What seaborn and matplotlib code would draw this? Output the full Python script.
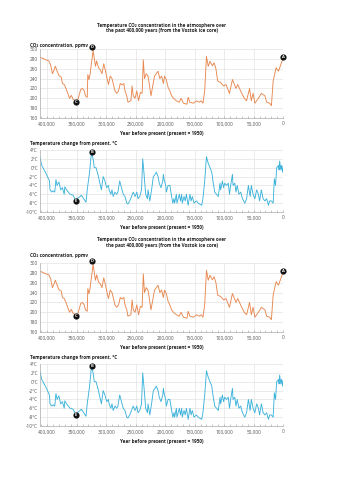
import matplotlib
matplotlib.use("Agg")
import matplotlib.pyplot as plt
import seaborn as sns
import pandas as pd
from matplotlib.ticker import FuncFormatter, MultipleLocator

sns.set_theme(style="whitegrid")
plt.rcParams['font.family'] = ['Open Sans', 'DejaVu Sans']

# ---- data ----
co2_years = [411000, 402000, 397000, 394000, 391000, 389000, 386000, 383000, 380000, 376000,
             374000, 371000, 368000, 365000, 362000, 359000, 356000, 352000, 349000, 346000,
             343000, 340000, 337000, 335000, 332000, 331000, 329000, 327000, 325000, 322000,
             320000, 318000, 316000, 313000, 310000, 307000, 304000, 301000, 298000, 296000,
             293000, 290000, 287000, 285000, 282000, 279000, 276000, 273000, 270000, 268000,
             265000, 263000, 260000, 258000, 256000, 254000, 251000, 248000, 245000, 242000,
             239000, 237000, 235000, 232000, 229000, 227000, 224000, 221000, 218000, 215000,
             212000, 209000, 206000, 203000, 201000, 198000, 195000, 192000, 189000, 186000,
             181000, 176000, 173000, 169000, 163000, 161000, 158000, 152000, 147000, 142000,
             139000, 136000, 133000, 130000, 127000, 124000, 120000, 117000, 114000, 111000,
             106000, 101000, 97000, 91000, 86000, 80000, 77000, 71000, 66000, 62000,
             59000, 57000, 54000, 51000, 48000, 42000, 37000, 31000, 28000, 23000,
             20000, 17000, 12000, 8000, 5000, 0]
co2_ppmv = [283, 278, 276, 268, 250, 255, 265, 255, 246, 243,
            230, 228, 220, 210, 200, 206, 198, 195, 192, 205,
            218, 220, 215, 205, 202, 248, 238, 250, 270, 297,
            280, 265, 276, 262, 258, 250, 270, 255, 238, 228,
            245, 240, 225, 215, 210, 215, 230, 227, 230, 215,
            205, 192, 194, 195, 225, 205, 200, 215, 195, 212,
            210, 278, 240, 250, 245, 230, 205, 225, 245, 250,
            255, 240, 245, 230, 245, 238, 222, 215, 205, 200,
            195, 192, 200, 190, 188, 202, 192, 190, 195, 192,
            195, 190, 215, 285, 265, 275, 266, 272, 260, 235,
            232, 225, 228, 210, 238, 220, 228, 212, 200, 195,
            210, 220, 195, 210, 190, 200, 210, 205, 192, 190,
            185, 235, 262, 255, 265, 282]

temp_years = [412000, 409000, 407000, 401000, 396000, 395000, 392000, 390000, 387000, 385000,
              383000, 380000, 377000, 374000, 371000, 370000, 367000, 364000, 361000, 356000,
              353000, 351000, 349000, 344000, 342000, 338000, 334000, 332000, 328000, 325000,
              322000, 320000, 317000, 313000, 308000, 305000, 302000, 299000, 296000, 295000,
              292000, 290000, 288000, 285000, 282000, 280000, 277000, 274000, 271000, 268000,
              265000, 263000, 260000, 257000, 254000, 251000, 248000, 246000, 243000, 240000,
              238000, 236000, 233000, 230000, 229000, 226000, 223000, 220000, 217000, 215000,
              212000, 210000, 207000, 204000, 203000, 202000, 199000, 198000, 195000, 192000,
              189000, 187000, 185000, 184000, 181000, 180000, 176000, 174000, 172000, 171000,
              168000, 166000, 164000, 161000, 158000, 156000, 154000, 151000, 147000, 144000,
              138000, 136000, 133000, 130000, 127000, 124000, 121000, 119000, 116000, 113000,
              110000, 107000, 106000, 103000, 101000, 99000, 96000, 93000, 91000, 89000,
              86000, 85000, 82000, 80000, 78000, 75000, 72000, 69000, 65000, 62000,
              59000, 56000, 54000, 51000, 48000, 45000, 42000, 40000, 37000, 34000,
              31000, 28000, 25000, 23000, 20000, 17000, 15000, 13000, 11000, 8000,
              7000, 6000, 4000, 3000, 1000, 0]
temp_change = [2.3, 0.5, 0.0, -1.5, -3.0, -5.0, -5.5, -5.2, -5.5, -2.7,
               -4.0, -3.2, -5.0, -4.5, -6.0, -4.3, -5.0, -5.5, -6.0, -6.2,
               -7.0, -7.3, -7.0, -6.5, -6.2, -7.0, -7.8, -5.0, -1.0, 3.3,
               2.0, 0.0, 0.0, -2.0, -5.0, -2.0, -3.0, -4.5, -4.0, -5.0,
               -6.0, -5.0, -6.5, -5.5, -6.0, -5.5, -3.0, -4.5, -6.0, -6.5,
               -8.0, -8.2, -7.5, -6.5, -5.5, -6.5, -5.5, -7.0, -6.5, -5.0,
               2.0, -1.0, -6.0, -7.0, -5.0, -7.5, -5.0, -2.0, -1.5, -1.0,
               -2.0, -3.5, -4.5, -3.0, -1.5, -2.5, -4.0, -5.5, -4.0, -4.0,
               -6.5, -8.0, -7.0, -8.0, -6.0, -8.0, -6.0, -7.5, -6.0, -8.0,
               -6.5, -7.5, -6.0, -8.5, -6.0, -7.5, -6.5, -8.0, -7.5, -8.0,
               -8.5, -7.0, -3.0, 2.5, 1.0, 0.0, -1.0, -3.0, -5.5, -6.0,
               -6.5, -3.5, -5.0, -3.0, -4.5, -3.5, -4.0, -3.5, -6.0, -4.0,
               -1.5, -4.0, -3.5, -5.5, -4.0, -6.0, -5.5, -7.0, -8.0, -7.0,
               -4.0, -6.5, -4.0, -6.0, -7.0, -5.0, -6.0, -7.5, -5.0, -7.0,
               -7.5, -7.0, -8.5, -7.5, -7.5, -8.0, -2.5, -4.0, 0.0, 0.5,
               -0.5, 1.5, -0.5, 0.5, -1.0, 0.5]

co2_marker_labels = ["A", "D", "C"]
co2_marker_years = [0, 324000, 351000]
co2_marker_values = [283, 304, 193]
temp_marker_labels = ["B", "E"]
temp_marker_years = [324000, 351000]
temp_marker_values = [3.5, -7.5]

x_ticks = [400000, 350000, 300000, 250000, 200000, 150000, 100000, 50000, 0]
co2_ticks = [160, 180, 200, 220, 240, 260, 280, 300]
temp_ticks = [-10, -8, -6, -4, -2, 0, 2, 4]

title_text = "Temperature CO\u2082 concentration in the atmosphere over\nthe past 400,000 years (from the Vostok ice core)"
co2_label = "CO\u2082 concentration, ppmv"
temp_label = "Temperature change from present, \u00b0C"
x_label = "Year before present (present = 1950)"

co2_df = pd.DataFrame({"year": co2_years, "ppmv": co2_ppmv})
temp_df = pd.DataFrame({"year": temp_years, "temp": temp_change})

CO2_COLOR = "#E8874F"
TEMP_COLOR = "#3DB3DB"
GRID = "#E3E3E3"
TICK_C = "#555555"
TXT_C = "#222222"

fig = plt.figure(figsize=(3.54, 5.0), dpi=100)
fig.patch.set_facecolor("white")

L, W = 0.113, 0.687


def style_axes(ax, ylim, yticks, yfmt):
    ax.set_xlim(412000, 0)
    ax.set_ylim(*ylim)
    ax.set_xticks(x_ticks)
    ax.xaxis.set_minor_locator(MultipleLocator(10000))
    ax.set_yticks(yticks)
    ax.xaxis.set_major_formatter(FuncFormatter(lambda v, p: f"{int(v):,}"))
    ax.yaxis.set_major_formatter(FuncFormatter(yfmt))
    ax.grid(True, which="major", color=GRID, linewidth=0.5)
    ax.grid(False, which="minor")
    ax.set_xlabel("")
    ax.set_ylabel("")
    ax.tick_params(axis="both", which="major", labelsize=3.4, colors=TICK_C,
                   length=0, pad=1.5)
    ax.tick_params(axis="x", which="minor", bottom=True, direction="in",
                   length=1.5, width=0.4, color="#999999")
    ax.tick_params(axis="x", which="major", bottom=True, direction="in",
                   length=1.5, width=0.4, color="#999999", pad=2.5)
    for s in ["top", "right"]:
        ax.spines[s].set_visible(False)
    for s in ["left", "bottom"]:
        ax.spines[s].set_color("#AAAAAA")
        ax.spines[s].set_linewidth(0.5)
    ax.set_facecolor("white")


def add_markers(ax, xs, ys, labels):
    ax.scatter(xs, ys, s=20, color="#111111", zorder=5, clip_on=False, linewidths=0)
    for x, y, t in zip(xs, ys, labels):
        ax.text(x, y, t, color="white", fontsize=3.0, fontweight="bold",
                ha="center", va="center", zorder=6, clip_on=False)


def draw_chart(co2_top_px, temp_top_px, title_px, co2lab_px, templab_px):
    H = 500.0
    # CO2 panel
    ax1 = fig.add_axes([L, 1 - (co2_top_px + 69) / H, W, 69 / H])
    sns.lineplot(data=co2_df, x="year", y="ppmv", ax=ax1, color=CO2_COLOR,
                 linewidth=0.65, estimator=None, sort=False)
    style_axes(ax1, (160, 300), co2_ticks, lambda v, p: f"{int(v)}")
    add_markers(ax1, co2_marker_years, co2_marker_values, co2_marker_labels)
    # Temperature panel
    ax2 = fig.add_axes([L, 1 - (temp_top_px + 62) / H, W, 62 / H])
    sns.lineplot(data=temp_df, x="year", y="temp", ax=ax2, color=TEMP_COLOR,
                 linewidth=0.65, estimator=None, sort=False)
    style_axes(ax2, (-10, 4), temp_ticks, lambda v, p: f"{int(v)}\u00b0C")
    add_markers(ax2, temp_marker_years, temp_marker_values, temp_marker_labels)

    cx = L + W / 2
    fig.text(cx, 1 - title_px / H, title_text, ha="center", va="center",
             fontsize=3.3, fontweight="bold", color=TXT_C, linespacing=1.2)
    fig.text(0.085, 1 - co2lab_px / H, co2_label, ha="left", va="center",
             fontsize=3.3, fontweight="bold", color=TXT_C)
    fig.text(0.085, 1 - templab_px / H, temp_label, ha="left", va="center",
             fontsize=3.3, fontweight="bold", color=TXT_C)
    fig.text(cx, 1 - (co2_top_px + 84) / H, x_label, ha="center", va="center",
             fontsize=3.3, fontweight="bold", color=TXT_C)
    fig.text(cx, 1 - (temp_top_px + 77) / H, x_label, ha="center", va="center",
             fontsize=3.3, fontweight="bold", color=TXT_C)


draw_chart(49, 150, 28, 45, 144)
draw_chart(263, 364, 242.5, 256, 358)

fig.savefig("out.png", dpi=100, facecolor="white")
